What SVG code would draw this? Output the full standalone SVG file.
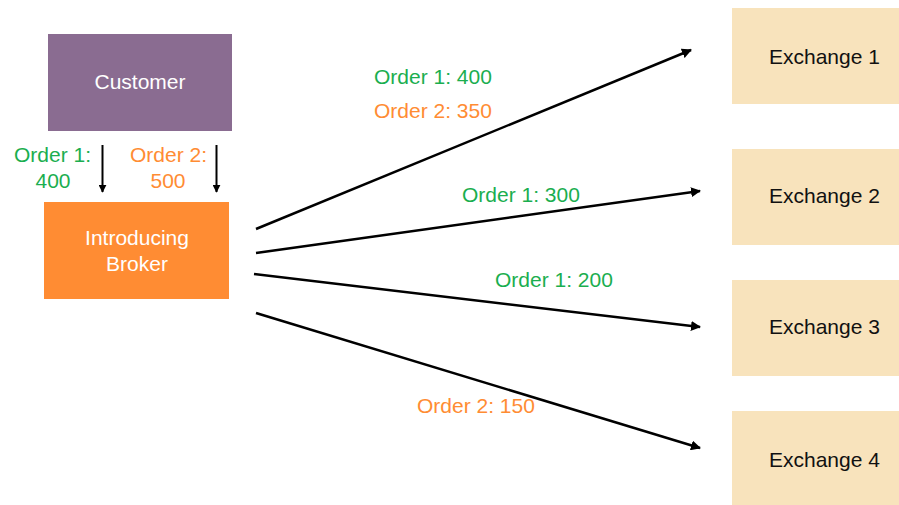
<svg xmlns="http://www.w3.org/2000/svg" width="899" height="505" viewBox="0 0 899 505">
  <defs>
    <marker id="arrow" viewBox="0 0 10 10" refX="9" refY="5" markerWidth="4" markerHeight="4" orient="auto" markerUnits="strokeWidth">
      <path d="M0,0 L10,5 L0,10 z" fill="#000"/>
    </marker>
  </defs>
  <style>
    text { font-family: "Liberation Sans", Arial, sans-serif; font-size: 21px; }
    .white { fill: #ffffff; }
    .dark { fill: #111111; }
    .green { fill: #1BAE4F; }
    .orange { fill: #FF8C33; }
    .exch { fill: #F8E3BC; }
    .conn { stroke: #000; stroke-width: 2.5; fill: none; marker-end: url(#arrow); }
    .conn-v { stroke: #000; stroke-width: 2; fill: none; marker-end: url(#arrow); }
  </style>
  <rect width="899" height="505" fill="#ffffff"/>

  <g id="customer">
    <rect x="48" y="34" width="184" height="97" fill="#8A6C91"/>
    <text class="white" x="140" y="89" text-anchor="middle">Customer</text>
  </g>

  <g id="broker">
    <rect x="44" y="202" width="185" height="97" fill="#FF8C33"/>
    <text class="white" x="137" y="245" text-anchor="middle">Introducing</text>
    <text class="white" x="137" y="271" text-anchor="middle">Broker</text>
  </g>

  <g id="exchange1">
    <rect class="exch" x="732" y="8" width="167" height="96"/>
    <text class="dark" x="769" y="64">Exchange 1</text>
  </g>
  <g id="exchange2">
    <rect class="exch" x="732" y="149" width="167" height="96"/>
    <text class="dark" x="769" y="203">Exchange 2</text>
  </g>
  <g id="exchange3">
    <rect class="exch" x="732" y="280" width="167" height="96"/>
    <text class="dark" x="769" y="334">Exchange 3</text>
  </g>
  <g id="exchange4">
    <rect class="exch" x="732" y="411" width="167" height="94"/>
    <text class="dark" x="769" y="467">Exchange 4</text>
  </g>

  <g id="connectors">
    <line class="conn-v" x1="102.5" y1="145" x2="102.5" y2="192"/>
    <line class="conn-v" x1="216.5" y1="145" x2="216.5" y2="192"/>
    <line class="conn" x1="256" y1="229" x2="691" y2="50"/>
    <line class="conn" x1="256" y1="253" x2="700" y2="191"/>
    <line class="conn" x1="254" y1="274" x2="700" y2="327"/>
    <line class="conn" x1="256" y1="313" x2="700" y2="448"/>
  </g>

  <g id="labels">
    <text class="green" x="14" y="162">Order 1:</text>
    <text class="green" x="53" y="188" text-anchor="middle">400</text>
    <text class="orange" x="130" y="162">Order 2:</text>
    <text class="orange" x="168" y="188" text-anchor="middle">500</text>
    <text class="green" x="374" y="84">Order 1: 400</text>
    <text class="orange" x="374" y="118">Order 2: 350</text>
    <text class="green" x="462" y="202">Order 1: 300</text>
    <text class="green" x="495" y="287">Order 1: 200</text>
    <text class="orange" x="417" y="413">Order 2: 150</text>
  </g>
</svg>
